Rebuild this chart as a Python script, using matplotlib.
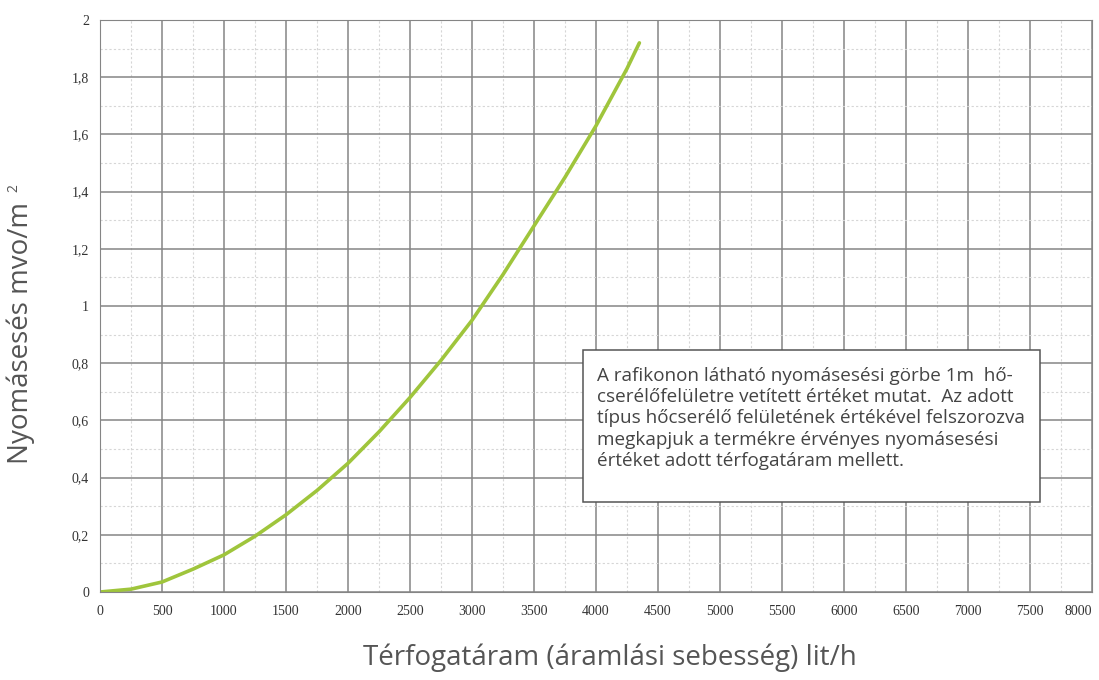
import matplotlib.pyplot as plt
from matplotlib.patches import Rectangle
from matplotlib.ticker import MultipleLocator, FuncFormatter

# values
flow = [0, 250, 500, 750, 1000, 1250, 1500, 1750, 2000, 2250, 2500,
        2750, 3000, 3250, 3500, 3750, 4000, 4250, 4350]
drop = [0, 0.01, 0.035, 0.08, 0.13, 0.195, 0.27, 0.355, 0.45, 0.56, 0.68,
        0.81, 0.95, 1.11, 1.28, 1.45, 1.63, 1.83, 1.92]

x_ticks = list(range(0, 8001, 500))
y_ticks = [0, 0.2, 0.4, 0.6, 0.8, 1.0, 1.2, 1.4, 1.6, 1.8, 2.0]

note = ("A rafikonon látható nyomásesési görbe 1m  hő-\n"
        "cserélőfelületre vetített értéket mutat.  Az adott\n"
        "típus hőcserélő felületének értékével felszorozva\n"
        "megkapjuk a termékre érvényes nyomásesési\n"
        "értéket adott térfogatáram mellett.")

fig = plt.figure(figsize=(10.99, 6.8), dpi=100)
ax = fig.add_axes([0.091, 0.1294, 0.9026, 0.8412])

ax.plot(flow, drop, color='#9fc53c', lw=2.6, solid_capstyle='round')

ax.set_xlim(0, 8000)
ax.set_ylim(0, 2)
ax.set_xticks(x_ticks)
ax.set_yticks(y_ticks)
ax.xaxis.set_minor_locator(MultipleLocator(250))
ax.yaxis.set_minor_locator(MultipleLocator(0.1))
ax.yaxis.set_major_formatter(FuncFormatter(lambda v, p: f"{v:g}".replace('.', ',')))

ax.grid(which='major', color='#858585', lw=1.1)
ax.grid(which='minor', color='#d6d6d6', lw=0.8, ls=(0, (2, 2)))
ax.set_axisbelow(True)
for s in ax.spines.values():
    s.set_color('#858585')

ax.tick_params(which='both', length=0, labelsize=10, colors='#333333')
ax.tick_params(axis='x', pad=9)
ax.tick_params(axis='y', pad=8)
for lab in ax.get_xticklabels() + ax.get_yticklabels():
    lab.set_fontfamily('Liberation Serif')
# last x label sits against the right edge in the original
ax.get_xticklabels()[-1].set_horizontalalignment('right')
ax.get_xticklabels()[-1].set_x(8050)

# axis titles
fig.text(0.555, 0.022, 'Térfogatáram (áramlási sebesség) lit/h', fontsize=20,
         family='Open Sans', color='#555555', ha='center', va='baseline')
fig.text(0.019, 0.51, 'Nyomásesés mvo/m', fontsize=20, family='Open Sans',
         color='#555555', rotation=90, ha='center', va='center')
fig.text(0.013, 0.723, '2', fontsize=10, family='Open Sans',
         color='#555555', rotation=90, ha='center', va='center')

# note box
ax.add_patch(Rectangle((0.4869, 0.1573), 0.4607, 0.2657, transform=ax.transAxes,
                       fc='white', ec='#555555', lw=1.1, zorder=3))
ax.text(0.501, 0.394, note, transform=ax.transAxes, fontsize=13.6,
        family='Open Sans', color='#444444', va='top', ha='left',
        linespacing=1.24, zorder=4)

fig.savefig('out.png', dpi=100)
